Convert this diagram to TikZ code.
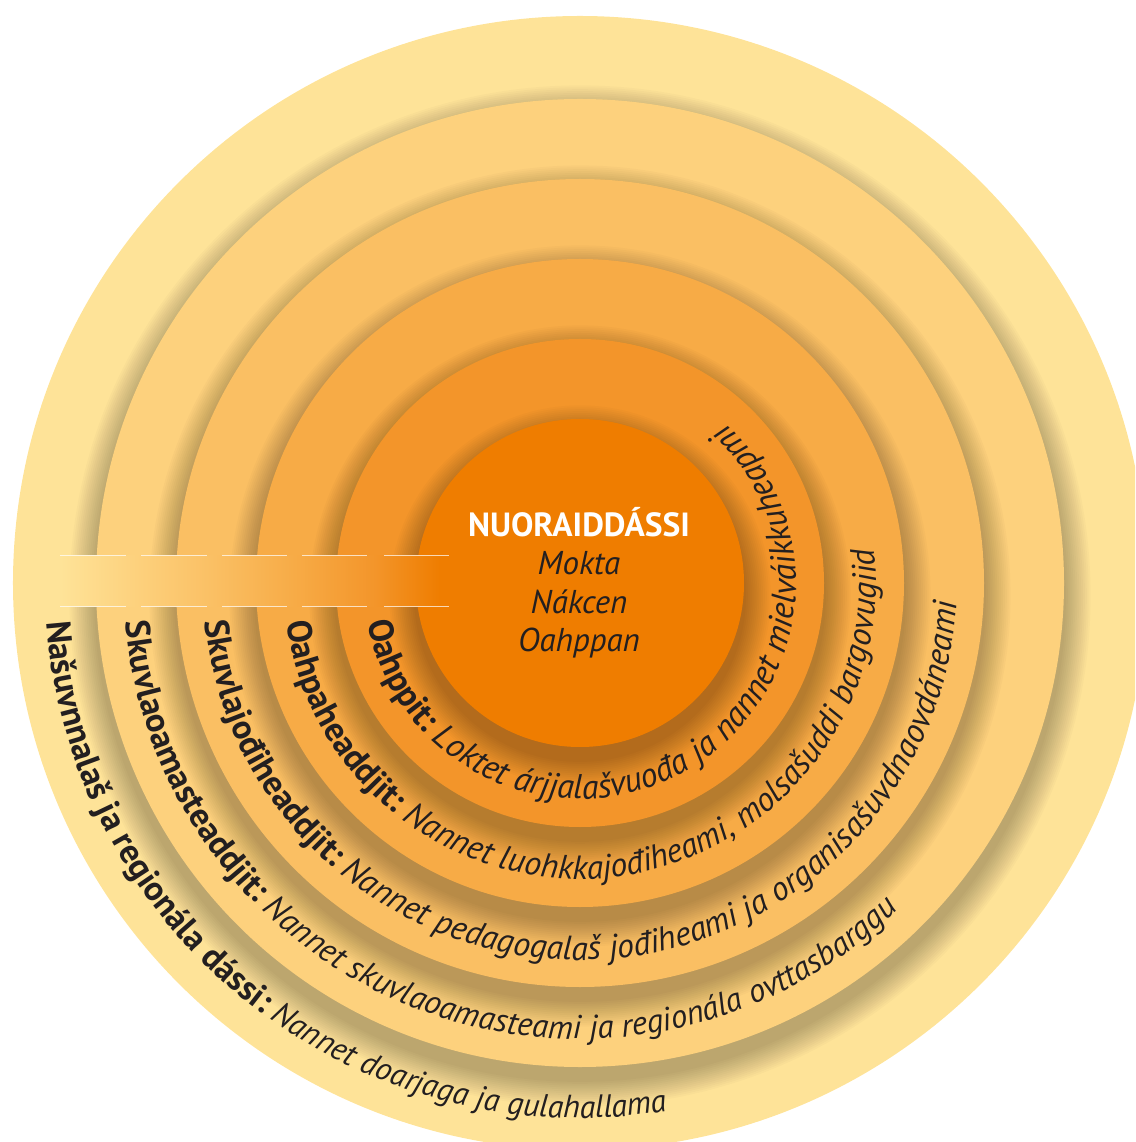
\documentclass[tikz,border=0pt]{standalone}
\usepackage{fontspec}
\setmainfont{PT Sans}
\usetikzlibrary{decorations.text}
\definecolor{rA}{HTML}{EF7D00}
\definecolor{rB}{HTML}{F3952A}
\definecolor{rC}{HTML}{F7AB46}
\definecolor{rD}{HTML}{FABF63}
\definecolor{rE}{HTML}{FDD17D}
\definecolor{rF}{HTML}{FEE398}
\definecolor{txt}{HTML}{231F20}
\pgfdeclarehorizontalshading{bandshade}{100bp}{color(0bp)=(rF); color(25bp)=(rF); color(34.8bp)=(rE); color(44.9bp)=(rD); color(55.2bp)=(rC); color(65.5bp)=(rB); color(73.8bp)=(rA); color(100bp)=(rA)}
\newcommand{\lblfont}{\fontsize{34.5}{40}\selectfont\bfseries}
\newcommand{\itfont}[1]{\fontsize{#1}{40}\selectfont\mdseries\itshape}
\begin{document}
\begin{tikzpicture}[x=1pt,y=1pt,
  ringshadow/.style={black, opacity=0.019},
  bandline/.style={white, opacity=0.7, line width=1pt},
  arclabel/.style={decorate, decoration={text along path, text color=txt, text align=left, text={#1}}},
  centertitle/.style={font=\fontsize{33.5}{40}\selectfont\bfseries, text=white, anchor=base, inner sep=0pt},
  centerline/.style={font=\fontsize{33}{40}\selectfont\itshape, text=txt, anchor=base, inner sep=0pt}]
\clip (-580,-559) rectangle (555,583);
% rings
\fill[rF] (0,0) circle[radius=567pt];
\foreach \r/\c in {484/rE,404/rD,324/rC,244/rB,164/rA}{
  \foreach \i in {1,...,14}{\fill[ringshadow] (0,-13) circle[radius={(\r+1.9*\i)*1pt}];}
  \fill[\c] (0,0) circle[radius=\r pt];
}
% left band
\shade[shading=bandshade] (-520,-24) rectangle (-131,27);
\foreach \a/\b in {-520/-454,-439/-373,-358/-293,-278/-213,-196/-131}{
  \draw[bandline] (\a,27) -- (\b,27);
  \draw[bandline] (\a,-24) -- (\b,-24);
}
% labels along arcs
\path[arclabel={|\lblfont|Oahppit: |\itfont{34.3}|Loktet árjjalašvuođa ja nannet mielváikkuheapmi}]
  (190.4:216pt) arc[start angle=190.4, end angle=460, radius=216pt];
\path[arclabel={|\lblfont|Oahpaheaddjit: |\itfont{33.6}|Nannet luohkkajođiheami, molsašuddi bargovugiid}]
  (187.6:296pt) arc[start angle=187.6, end angle=420, radius=296pt];
\path[arclabel={|\lblfont|Skuvlajođiheaddjit: |\itfont{33.8}|Nannet pedagogalaš jođiheami ja organisašuvdnaovdáneami}]
  (185.9:377pt) arc[start angle=185.9, end angle=400, radius=377pt];
\path[arclabel={|\lblfont|Skuvlaoamasteaddjit: |\itfont{33}|Nannet skuvlaoamasteami ja regionála ovttasbarggu}]
  (184.9:456pt) arc[start angle=184.9, end angle=370, radius=456pt];
\path[arclabel={|\lblfont|Našuvnnalaš ja regionála dássi: |\itfont{32}|Nannet doarjaga ja gulahallama}]
  (184.2:535pt) arc[start angle=184.2, end angle=330, radius=535pt];
% centre text
\node[centertitle] (level) at (-1,46) {NUORAIDDÁSSI};
\node[centerline] (first) at (-1,8) {Mokta};
\node[centerline] (second) at (-1,-31) {Nákcen};
\node[centerline] (third) at (-1,-69) {Oahppan};
\end{tikzpicture}
\end{document}
